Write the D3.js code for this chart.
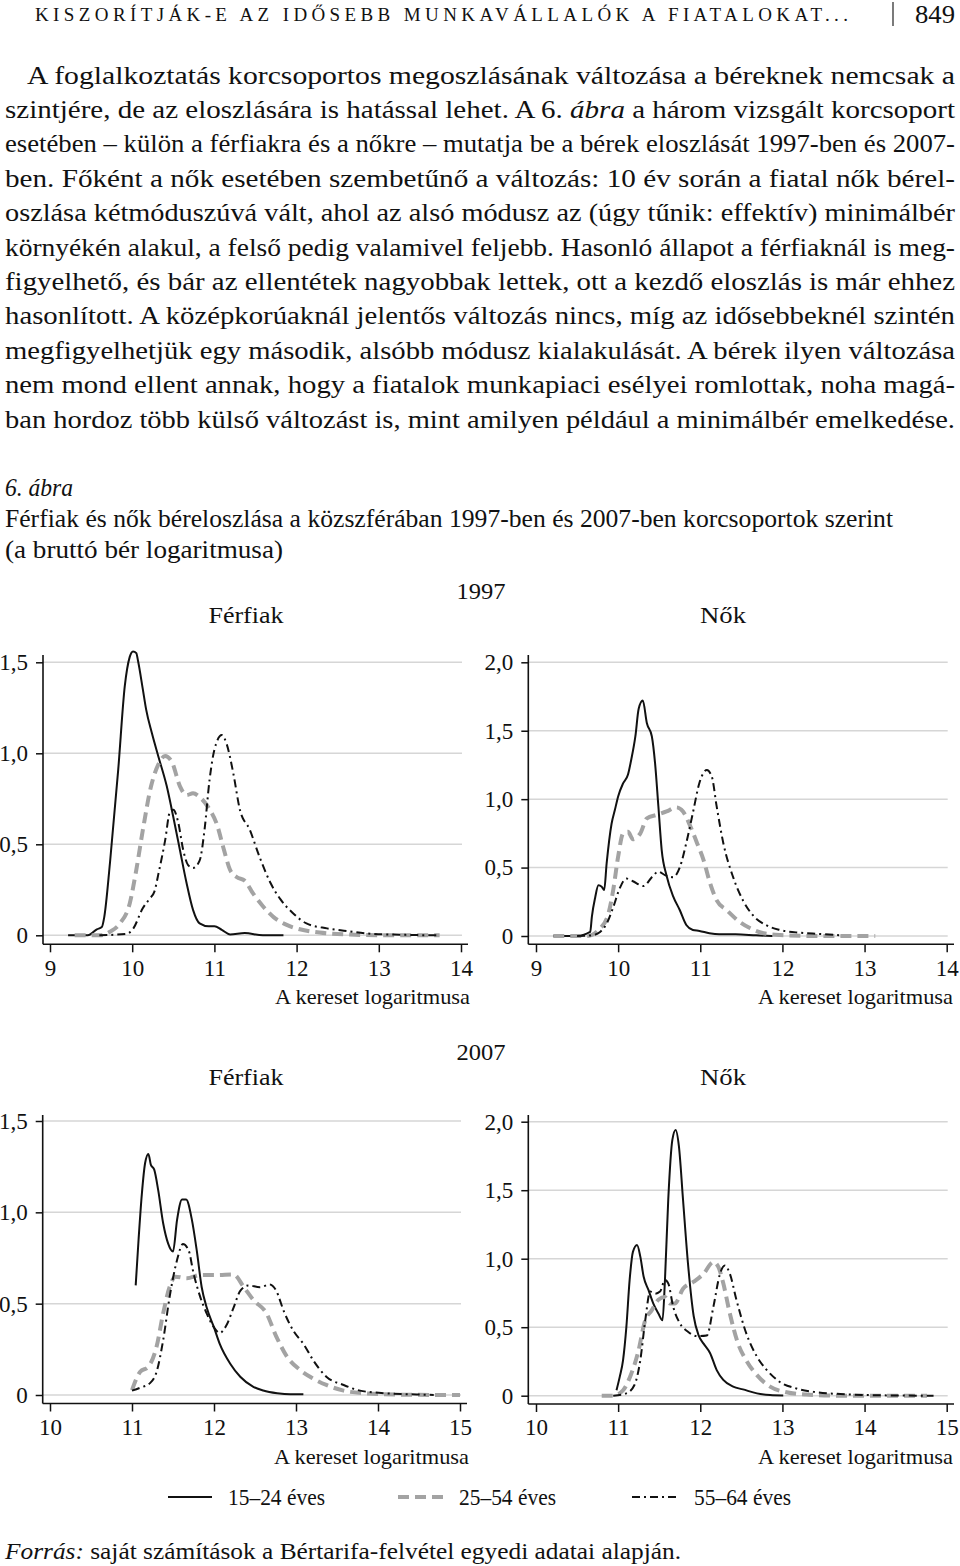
<!DOCTYPE html>
<html>
<head>
<meta charset="utf-8">
<script src="https://cdn.jsdelivr.net/npm/d3@7"></script>
<style>
  html, body { margin: 0; padding: 0; background: #fff; }
  svg { display: block; }
  text { font-family: "Liberation Serif", "Times New Roman", serif; fill: #111; }
</style>
</head>
<body>
<svg id="page" width="960" height="1566"></svg>
<script>
// ---------------- DATA ----------------
const ageGroups = ["15–24 éves", "25–54 éves", "55–64 éves"];
const yTicksMen = [0, 0.5, 1.0, 1.5];
const yTicksWomen = [0, 0.5, 1.0, 1.5, 2.0];
const xTicks1997 = [9, 10, 11, 12, 13, 14];
const xTicks2007 = [10, 11, 12, 13, 14, 15];

// 1997, men
const men1997_young = [[9.22,0],[9.46,0],[9.57,0.033],[9.63,0.045],[9.66,0.10],[9.73,0.40],[9.83,0.91],[9.91,1.37],[9.97,1.53],[10.01,1.56],[10.05,1.55],[10.07,1.51],[10.13,1.35],[10.17,1.24],[10.24,1.11],[10.32,0.98],[10.42,0.82],[10.50,0.65],[10.58,0.47],[10.66,0.29],[10.74,0.14],[10.82,0.066],[10.93,0.05],[11.0,0.05],[11.09,0.03],[11.19,0.005],[11.37,0.012],[11.59,0],[11.84,0]];
const men1997_mid = [[9.30,0],[9.61,0],[9.73,0.02],[9.85,0.065],[9.97,0.175],[10.05,0.36],[10.13,0.58],[10.23,0.82],[10.32,0.94],[10.40,0.985],[10.48,0.955],[10.58,0.82],[10.66,0.77],[10.74,0.78],[10.82,0.76],[10.93,0.70],[11.03,0.61],[11.11,0.48],[11.19,0.36],[11.27,0.32],[11.37,0.30],[11.47,0.23],[11.59,0.16],[11.72,0.10],[11.88,0.057],[12.04,0.033],[12.28,0.015],[12.65,0.004],[13.06,0],[13.74,0]];
const men1997_old = [[9.60,0],[9.93,0.008],[10.01,0.035],[10.13,0.15],[10.21,0.20],[10.27,0.24],[10.32,0.34],[10.40,0.52],[10.46,0.68],[10.50,0.69],[10.56,0.62],[10.62,0.47],[10.68,0.386],[10.74,0.37],[10.82,0.41],[10.88,0.58],[10.94,0.85],[11.0,1.02],[11.09,1.10],[11.15,1.05],[11.23,0.89],[11.31,0.69],[11.43,0.58],[11.55,0.43],[11.68,0.29],[11.80,0.20],[11.96,0.12],[12.12,0.065],[12.37,0.038],[12.61,0.024],[12.86,0.01],[13.27,0.003],[13.74,0]];

// 1997, women
const women1997_young = [[9.21,0],[9.49,0],[9.66,0.03],[9.68,0.14],[9.72,0.28],[9.76,0.37],[9.80,0.36],[9.83,0.336],[9.86,0.53],[9.92,0.82],[9.96,0.92],[10.0,1.02],[10.06,1.115],[10.12,1.18],[10.16,1.29],[10.21,1.46],[10.25,1.66],[10.30,1.72],[10.35,1.555],[10.41,1.46],[10.45,1.26],[10.49,0.946],[10.53,0.63],[10.59,0.44],[10.67,0.29],[10.75,0.19],[10.83,0.08],[10.91,0.044],[10.99,0.037],[11.11,0.02],[11.23,0.012],[11.43,0.012],[11.68,0.005],[11.88,0]];
const women1997_mid = [[9.21,0],[9.62,0],[9.78,0.055],[9.88,0.16],[9.94,0.336],[10.0,0.58],[10.06,0.75],[10.12,0.762],[10.18,0.707],[10.27,0.75],[10.35,0.86],[10.47,0.885],[10.59,0.91],[10.71,0.94],[10.79,0.91],[10.88,0.80],[10.96,0.68],[11.04,0.555],[11.12,0.385],[11.20,0.26],[11.32,0.19],[11.45,0.117],[11.61,0.056],[11.77,0.02],[11.97,0.007],[12.38,0],[13.13,0]];
const women1997_old = [[9.50,0],[9.68,0.005],[9.78,0.03],[9.86,0.09],[9.94,0.21],[10.02,0.35],[10.10,0.42],[10.18,0.40],[10.31,0.365],[10.41,0.43],[10.49,0.47],[10.57,0.445],[10.67,0.43],[10.75,0.50],[10.83,0.68],[10.91,0.90],[10.99,1.12],[11.08,1.213],[11.14,1.165],[11.20,0.945],[11.28,0.68],[11.40,0.43],[11.52,0.26],[11.64,0.152],[11.80,0.08],[11.97,0.044],[12.21,0.024],[12.46,0.015],[12.70,0.005]];

// 2007, men
const men2007_young = [[11.045,0.60],[11.08,0.85],[11.12,1.10],[11.16,1.27],[11.20,1.32],[11.23,1.26],[11.27,1.235],[11.32,1.12],[11.38,0.94],[11.44,0.83],[11.50,0.785],[11.55,0.96],[11.61,1.07],[11.66,1.07],[11.73,0.96],[11.79,0.79],[11.85,0.59],[11.91,0.48],[12.0,0.37],[12.07,0.28],[12.2,0.17],[12.32,0.10],[12.48,0.045],[12.60,0.025],[12.77,0.01],[12.93,0.004],[13.09,0.004]];
const men2007_mid = [[11.0,0.027],[11.10,0.127],[11.20,0.155],[11.30,0.265],[11.38,0.447],[11.46,0.593],[11.53,0.648],[11.67,0.639],[11.83,0.657],[12.03,0.657],[12.24,0.66],[12.36,0.593],[12.48,0.52],[12.64,0.447],[12.76,0.32],[12.89,0.21],[13.05,0.137],[13.21,0.09],[13.37,0.055],[13.58,0.024],[13.86,0.009],[14.27,0.002],[15.0,0]];
const men2007_old = [[11.0,0.024],[11.10,0.04],[11.22,0.065],[11.30,0.127],[11.38,0.30],[11.46,0.54],[11.55,0.74],[11.62,0.826],[11.69,0.793],[11.75,0.667],[11.83,0.54],[11.91,0.447],[12.0,0.37],[12.07,0.34],[12.15,0.38],[12.24,0.48],[12.32,0.57],[12.42,0.60],[12.56,0.59],[12.68,0.605],[12.76,0.57],[12.85,0.46],[12.97,0.35],[13.09,0.28],[13.21,0.19],[13.37,0.10],[13.58,0.055],[13.78,0.024],[14.07,0.01],[14.47,0.003],[14.68,0]];

// 2007, women
const women2007_young = [[10.98,0.04],[11.02,0.139],[11.06,0.26],[11.10,0.50],[11.14,0.845],[11.18,1.05],[11.23,1.10],[11.27,1.015],[11.31,0.87],[11.37,0.77],[11.43,0.67],[11.49,0.60],[11.54,0.55],[11.57,0.845],[11.61,1.43],[11.66,1.867],[11.70,1.94],[11.74,1.82],[11.79,1.43],[11.85,0.967],[11.92,0.58],[11.98,0.44],[12.04,0.38],[12.12,0.31],[12.20,0.187],[12.28,0.115],[12.40,0.066],[12.52,0.046],[12.69,0.017],[12.85,0.005],[13.01,0.002]];
const women2007_mid = [[10.80,0],[10.94,0],[11.06,0.04],[11.16,0.16],[11.24,0.31],[11.33,0.55],[11.41,0.625],[11.49,0.70],[11.57,0.72],[11.63,0.673],[11.69,0.673],[11.79,0.78],[11.92,0.832],[12.04,0.89],[12.16,0.976],[12.22,0.94],[12.28,0.82],[12.36,0.60],[12.46,0.38],[12.56,0.258],[12.69,0.15],[12.85,0.066],[13.05,0.025],[13.29,0.008],[13.70,0],[14.76,0]];
const women2007_old = [[10.94,0],[11.10,0.017],[11.20,0.08],[11.27,0.26],[11.33,0.55],[11.39,0.76],[11.45,0.745],[11.51,0.76],[11.57,0.845],[11.61,0.82],[11.67,0.65],[11.75,0.53],[11.85,0.467],[11.96,0.435],[12.08,0.44],[12.16,0.65],[12.24,0.89],[12.30,0.95],[12.36,0.89],[12.44,0.70],[12.56,0.455],[12.69,0.285],[12.81,0.187],[12.97,0.10],[13.17,0.053],[13.38,0.028],[13.78,0.01],[14.19,0.003],[14.84,0]];

// ---------------- TEXT ----------------
const headerText = "KISZORÍTJÁK-E AZ IDŐSEBB MUNKAVÁLLALÓK A FIATALOKAT...";
const pageNumber = "849";
const paragraphLines = [
  [{t:"A foglalkoztatás korcsoportos megoszlásának változása a béreknek nemcsak a"}],
  [{t:"szintjére, de az eloszlására is hatással lehet. A 6. "},{t:"ábra",i:true},{t:" a három vizsgált korcsoport"}],
  [{t:"esetében – külön a férfiakra és a nőkre – mutatja be a bérek eloszlását 1997-ben és 2007-"}],
  [{t:"ben. Főként a nők esetében szembetűnő a változás: 10 év során a fiatal nők bérel-"}],
  [{t:"oszlása kétmóduszúvá vált, ahol az alsó módusz az (úgy tűnik: effektív) minimálbér"}],
  [{t:"környékén alakul, a felső pedig valamivel feljebb. Hasonló állapot a férfiaknál is meg-"}],
  [{t:"figyelhető, és bár az ellentétek nagyobbak lettek, ott a kezdő eloszlás is már ehhez"}],
  [{t:"hasonlított. A középkorúaknál jelentős változás nincs, míg az idősebbeknél szintén"}],
  [{t:"megfigyelhetjük egy második, alsóbb módusz kialakulását. A bérek ilyen változása"}],
  [{t:"nem mond ellent annak, hogy a fiatalok munkapiaci esélyei romlottak, noha magá-"}],
  [{t:"ban hordoz több külső változást is, mint amilyen például a minimálbér emelkedése."}]
];
const figNumber = "6. ábra";
const figTitle = "Férfiak és nők béreloszlása a közszférában 1997-ben és 2007-ben korcsoportok szerint";
const figSubtitle = "(a bruttó bér logaritmusa)";
const years = ["1997", "2007"];
const sexes = ["Férfiak", "Nők"];
const xAxisTitle = "A kereset logaritmusa";
const sourceLabel = "Forrás:";
const sourceText = " saját számítások a Bértarifa-felvétel egyedi adatai alapján.";

// ---------------- DRAW ----------------
const svg = d3.select("#page");
const fmt = v => v === 0 ? "0" : d3.format(".1f")(v).replace(".", ",");

// header
svg.append("text").attr("x", 35).attr("y", 21).attr("font-size", 19)
  .attr("textLength", 813).attr("lengthAdjust", "spacing").text(headerText);
svg.append("line").attr("x1", 893).attr("x2", 893).attr("y1", 2).attr("y2", 26)
  .attr("stroke", "#222").attr("stroke-width", 1.2);
svg.append("text").attr("x", 915).attr("y", 23).attr("font-size", 25)
  .attr("textLength", 40).attr("lengthAdjust", "spacingAndGlyphs").text(pageNumber);

// paragraph
paragraphLines.forEach((segs, i) => {
  const x0 = i === 0 ? 27 : 5;
  const t = svg.append("text").attr("x", x0).attr("y", 83.5 + i * 34.4)
    .attr("font-size", 25.5).attr("textLength", 955 - x0).attr("lengthAdjust", "spacingAndGlyphs");
  segs.forEach(s => t.append("tspan").attr("font-style", s.i ? "italic" : null).text(s.t));
});

// caption
svg.append("text").attr("x", 5).attr("y", 496).attr("font-size", 24.5).attr("font-style", "italic")
  .attr("textLength", 68).attr("lengthAdjust", "spacingAndGlyphs").text(figNumber);
svg.append("text").attr("x", 5).attr("y", 527).attr("font-size", 24.5)
  .attr("textLength", 888).attr("lengthAdjust", "spacingAndGlyphs").text(figTitle);
svg.append("text").attr("x", 5).attr("y", 558).attr("font-size", 24.5)
  .attr("textLength", 278).attr("lengthAdjust", "spacingAndGlyphs").text(figSubtitle);

// panels
const styles = [
  {stroke: "#111", width: 2, dash: null},
  {stroke: "#a3a3a3", width: 4, dash: "11,6"},
  {stroke: "#111", width: 2, dash: "8,4,2,4"}
];

const panels = [
  {series:[men1997_young, men1997_mid, men1997_old], xd:[9,14], xticks:xTicks1997, yticks:yTicksMen, yMax:1.5,
   xr:[50,461], yr:[935.3,662.3], axisX:43, axisY:944.3, top:655, right:468, titleStart:275, titleLen:195},
  {series:[women1997_young, women1997_mid, women1997_old], xd:[9,14], xticks:xTicks1997, yticks:yTicksWomen, yMax:2.0,
   xr:[536,946.7], yr:[936,662.3], axisX:528.3, axisY:944.3, top:655, right:954, titleStart:758, titleLen:195},
  {series:[men2007_young, men2007_mid, men2007_old], xd:[10,15], xticks:xTicks2007, yticks:yTicksMen, yMax:1.5,
   xr:[50,460], yr:[1395,1121], axisX:42.7, axisY:1403.5, top:1115, right:467, titleStart:274, titleLen:195},
  {series:[women2007_young, women2007_mid, women2007_old], xd:[10,15], xticks:xTicks2007, yticks:yTicksWomen, yMax:2.0,
   xr:[536,946.7], yr:[1395.7,1121.7], axisX:528.3, axisY:1404, top:1115, right:954, titleStart:758, titleLen:195}
];

panels.forEach(p => {
  const x = d3.scaleLinear().domain(p.xd).range(p.xr);
  const y = d3.scaleLinear().domain([0, p.yMax]).range(p.yr);
  const g = svg.append("g");

  // gridlines
  g.selectAll(".grid").data(p.yticks).join("line")
    .attr("x1", p.axisX).attr("x2", p.xr[1] + 1)
    .attr("y1", d => y(d)).attr("y2", d => y(d))
    .attr("stroke", "#d6d6d6").attr("stroke-width", 1.5);

  // y axis
  const yAxis = d3.axisLeft(y).tickValues(p.yticks).tickFormat(fmt).tickSize(7).tickPadding(8);
  const ya = g.append("g").attr("transform", `translate(${p.axisX},0)`).call(yAxis);
  ya.select(".domain").remove();
  ya.selectAll("line").attr("stroke", "#111").attr("stroke-width", 1.5);
  ya.selectAll("text").attr("font-size", 23).attr("font-family", "Liberation Serif").attr("fill", "#111");
  g.append("line").attr("x1", p.axisX).attr("x2", p.axisX).attr("y1", p.top).attr("y2", p.axisY)
    .attr("stroke", "#111").attr("stroke-width", 1.6);

  // x axis
  const xAxis = d3.axisBottom(x).tickValues(p.xticks).tickFormat(d3.format("d")).tickSize(8).tickPadding(7);
  const xa = g.append("g").attr("transform", `translate(0,${p.axisY})`).call(xAxis);
  xa.select(".domain").remove();
  xa.selectAll("line").attr("stroke", "#111").attr("stroke-width", 1.5);
  xa.selectAll("text").attr("font-size", 23).attr("font-family", "Liberation Serif").attr("fill", "#111");
  g.append("line").attr("x1", p.axisX).attr("x2", p.right).attr("y1", p.axisY).attr("y2", p.axisY)
    .attr("stroke", "#111").attr("stroke-width", 1.6);

  // axis title
  g.append("text").attr("x", p.titleStart).attr("y", p.axisY + 60).attr("font-size", 22)
    .attr("textLength", p.titleLen).attr("lengthAdjust", "spacingAndGlyphs").text(xAxisTitle);

  // curves
  const line = d3.line().x(d => x(d[0])).y(d => y(d[1])).curve(d3.curveMonotoneX);
  p.series.forEach((s, i) => {
    const st = styles[i];
    g.append("path").datum(s).attr("d", line)
      .attr("fill", "none").attr("stroke", st.stroke).attr("stroke-width", st.width)
      .attr("stroke-dasharray", st.dash).attr("stroke-linejoin", "round");
  });
});

// panel titles
[[years[0], 598.5], [years[1], 1059.5]].forEach(([t, yy]) => {
  svg.append("text").attr("x", 481).attr("y", yy).attr("font-size", 23.5).attr("text-anchor", "middle")
    .attr("textLength", 49).attr("lengthAdjust", "spacingAndGlyphs").text(t);
});
[[622.5], [1084.5]].forEach(([yy]) => {
  svg.append("text").attr("x", 246).attr("y", yy).attr("font-size", 24).attr("text-anchor", "middle")
    .attr("textLength", 75).attr("lengthAdjust", "spacingAndGlyphs").text(sexes[0]);
  svg.append("text").attr("x", 723).attr("y", yy).attr("font-size", 24).attr("text-anchor", "middle")
    .attr("textLength", 46).attr("lengthAdjust", "spacingAndGlyphs").text(sexes[1]);
});

// legend
const legendX = [[168, 212, 228], [398, 443, 459], [632, 680, 694]];
ageGroups.forEach((lab, i) => {
  const st = styles[i];
  const [a, b, tx] = legendX[i];
  svg.append("line").attr("x1", a).attr("x2", b).attr("y1", 1497).attr("y2", 1497)
    .attr("stroke", st.stroke).attr("stroke-width", st.width).attr("stroke-dasharray", st.dash);
  svg.append("text").attr("x", tx).attr("y", 1504.5).attr("font-size", 22.5)
    .attr("textLength", 97).attr("lengthAdjust", "spacingAndGlyphs").text(lab);
});

// source
const src = svg.append("text").attr("x", 5).attr("y", 1559).attr("font-size", 24)
  .attr("textLength", 676).attr("lengthAdjust", "spacingAndGlyphs");
src.append("tspan").attr("font-style", "italic").text(sourceLabel);
src.append("tspan").text(sourceText);
</script>
</body>
</html>
